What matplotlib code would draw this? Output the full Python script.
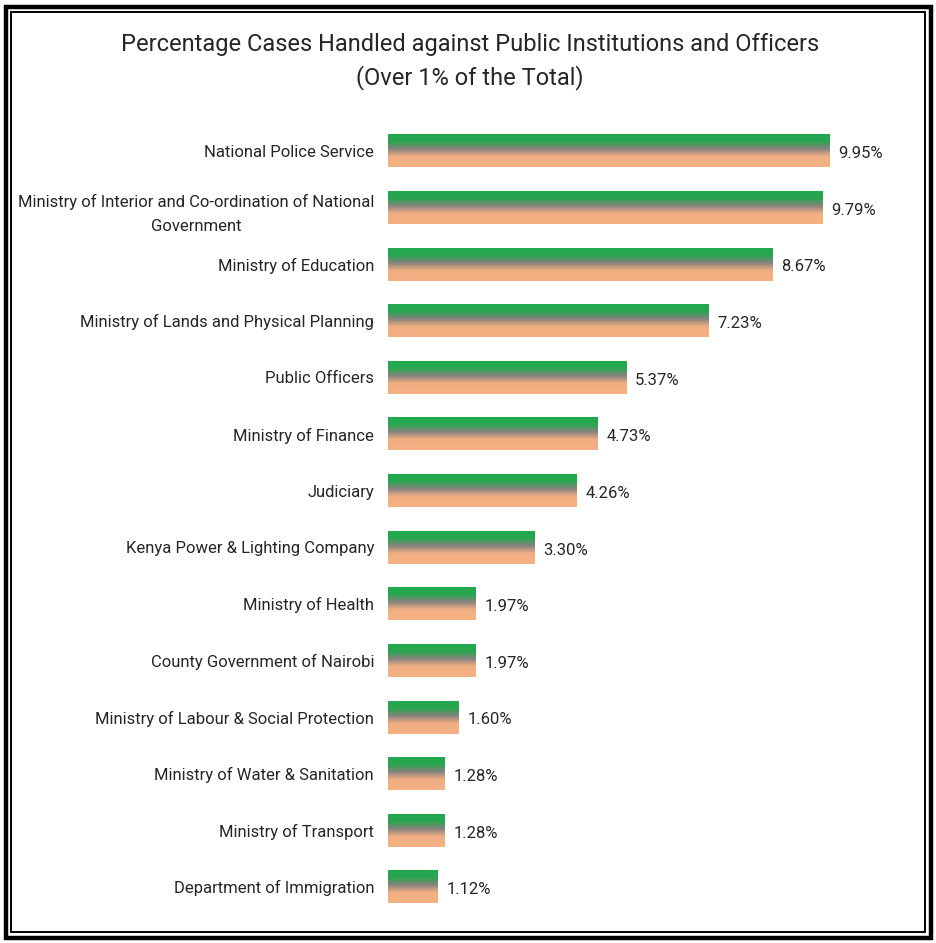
import numpy as np
import matplotlib
matplotlib.use("Agg")
import matplotlib.pyplot as plt
from matplotlib.colors import LinearSegmentedColormap
from matplotlib.patches import Rectangle

categories = [
    "National Police Service",
    "Ministry of Interior and Co-ordination of National\nGovernment",
    "Ministry of Education",
    "Ministry of Lands and Physical Planning",
    "Public Officers",
    "Ministry of Finance",
    "Judiciary",
    "Kenya Power & Lighting Company",
    "Ministry of Health",
    "County Government of Nairobi",
    "Ministry of Labour & Social Protection",
    "Ministry of Water & Sanitation",
    "Ministry of Transport",
    "Department of Immigration",
]
values = [9.95, 9.79, 8.67, 7.23, 5.37, 4.73, 4.26, 3.30, 1.97, 1.97, 1.60, 1.28, 1.28, 1.12]
value_labels = ["9.95%", "9.79%", "8.67%", "7.23%", "5.37%", "4.73%", "4.26%",
                "3.30%", "1.97%", "1.97%", "1.60%", "1.28%", "1.28%", "1.12%"]

plt.rcParams['font.family'] = ['Roboto', 'DejaVu Sans']

W, H = 936, 943
fig = plt.figure(figsize=(W / 100, H / 100), dpi=100)

# double frame round the chart
fig.patches.append(Rectangle((5.5 / W, 5.5 / H), 925 / W, 931 / H, transform=fig.transFigure,
                             fill=False, edgecolor="black", linewidth=3.2))
fig.patches.append(Rectangle((11 / W, 11.5 / H), 914 / W, 920 / H, transform=fig.transFigure,
                             fill=False, edgecolor="black", linewidth=1.4))

ax = fig.add_axes([388 / W, 0.0294, 532 / W, 0.8406])

# vertical gradient: green top -> grey -> peach bottom
grad = LinearSegmentedColormap.from_list("bar", [
    (0.0, "#21a84f"), (0.22, "#28a550"), (0.45, "#8a837f"),
    (0.68, "#f0ae82"), (1.0, "#f4b183")])
g = np.linspace(0, 1, 64).reshape(-1, 1)

bar_h = 0.58
n = len(values)
for i, v in enumerate(values):
    ax.imshow(g, cmap=grad, aspect="auto", extent=(0, v, i + bar_h / 2, i - bar_h / 2),
              interpolation="bilinear", zorder=2)
    ax.text(v + 0.2, i + 0.05, value_labels[i], va="center", ha="left",
            fontsize=12, color="#262626")

ax.set_xlim(0, 12)
ax.set_ylim(n - 0.5, -0.5)
ax.set_yticks(range(n))
ax.set_yticklabels(categories, fontsize=12, color="#262626",
                   multialignment="center", linespacing=1.75)
ax.tick_params(axis="y", length=0, pad=10)
ax.set_xticks([])
for s in ax.spines.values():
    s.set_visible(False)

fig.text(470 / W, 1 - 45 / H, "Percentage Cases Handled against Public Institutions and Officers",
         ha="center", va="center", fontsize=17, color="#262626")
fig.text(470 / W, 1 - 78 / H, "(Over 1% of the Total)",
         ha="center", va="center", fontsize=17, color="#262626")

fig.savefig("out.png", dpi=100)
